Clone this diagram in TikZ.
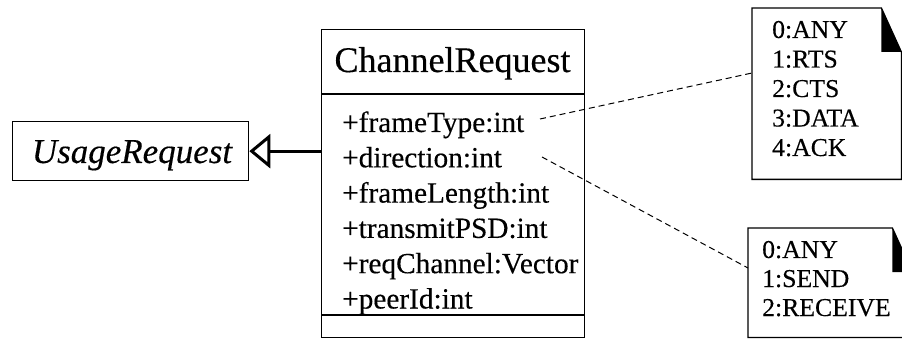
\documentclass[tikz,border=0pt]{standalone}
\usepackage{fontspec}
\setmainfont{Liberation Serif}[FakeBold=0.3]
\usetikzlibrary{arrows.meta,calc}
\tikzset{
  boxline/.style={draw, line width=1.3pt, inner sep=0pt, fill=white},
  sepline/.style={line width=2pt},
  cname/.style={anchor=base, inner sep=0pt, font=\fontsize{36}{40}\selectfont},
  attr/.style={anchor=base west, inner sep=0pt, font=\fontsize{29.3}{33}\selectfont},
  notetxt/.style={anchor=base west, inner sep=0pt, font=\fontsize{25.7}{29}\selectfont},
  noteline/.style={line width=1.3pt},
  gen/.style={line width=3pt, -{Triangle[open,length=21pt,width=34pt,line width=3pt]}},
  anchorline/.style={line width=1pt, dash pattern=on 6pt off 4pt},
}
\begin{document}
\begin{tikzpicture}[x=1pt,y=-1pt]
\useasboundingbox (0,0) rectangle (902,339);
\clip (0,0) rectangle (902,339);
\fill[white] (0,0) rectangle (902,339);

% UsageRequest
\node[boxline, minimum width=236pt, minimum height=59pt, anchor=north west] (ur) at (12,121) {};
\node[cname, font=\fontsize{35}{40}\selectfont\itshape] (urt) at (132,163) {UsageRequest};

% ChannelRequest class
\node[boxline, minimum width=263pt, minimum height=308pt, anchor=north west] (cr) at (321,29) {};
\draw[sepline] ([yshift=-65pt]cr.north west) -- ([yshift=-65pt]cr.north east);
\draw[sepline] ([yshift=-286pt]cr.north west) -- ([yshift=-286pt]cr.north east);
\node[cname] (crn) at (452.5,72) {ChannelRequest};
\node[attr] (a1) at (342,132) {+frameType:int};
\node[attr] (a2) at (342,167.3) {+direction:int};
\node[attr] (a3) at (342,202.6) {+frameLength:int};
\node[attr] (a4) at (342,237.9) {+transmitPSD:int};
\node[attr] (a5) at (342,273.2) {+reqChannel:Vector};
\node[attr] (a6) at (342,308.5) {+peerId:int};

% generalization
\draw[gen] (ur.east -| cr.west) -- (ur.east);

% Note 1
\node[inner sep=0pt, minimum width=149pt, minimum height=171pt, anchor=north west] (n1) at (752,8) {};
\draw[noteline] ([xshift=-20pt]n1.north east) -- (n1.north west) -- (n1.south west) -- (n1.south east) -- ([yshift=-44pt]n1.north east) -- cycle;
\fill ([xshift=-20pt]n1.north east) -- ([xshift=-20pt,yshift=-44pt]n1.north east) -- ([yshift=-44pt]n1.north east) -- cycle;
\node[notetxt] (t10) at (772,38) {0:ANY};
\node[notetxt] (t11) at (772,67.5) {1:RTS};
\node[notetxt] (t12) at (772,97) {2:CTS};
\node[notetxt] (t13) at (772,126.5) {3:DATA};
\node[notetxt] (t14) at (772,156) {4:ACK};

% Note 2
\node[inner sep=0pt, minimum width=164pt, minimum height=109pt, anchor=north west] (n2) at (748,228) {};
\draw[noteline] ([xshift=-20pt]n2.north east) -- (n2.north west) -- (n2.south west) -- (n2.south east) -- ([yshift=-44pt]n2.north east) -- cycle;
\fill ([xshift=-20pt]n2.north east) -- ([xshift=-20pt,yshift=-44pt]n2.north east) -- ([yshift=-44pt]n2.north east) -- cycle;
\node[notetxt] (t20) at (762,258) {0:ANY};
\node[notetxt] (t21) at (762,287) {1:SEND};
\node[notetxt] (t22) at (762,316) {2:RECEIVE};

% note anchors
\coordinate (d1) at (540,119);
\coordinate (d2) at (542,157);
\draw[anchorline] (d1) -- (n1.west |- 0,73);
\draw[anchorline] (d2) -- (n2.west |- 0,268);
\end{tikzpicture}
\end{document}
